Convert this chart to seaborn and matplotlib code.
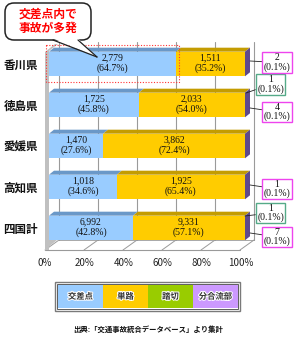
import numpy as np
import pandas as pd
import seaborn as sns
import matplotlib
matplotlib.use("Agg")
import matplotlib.pyplot as plt
from matplotlib.patches import Polygon, Rectangle, FancyBboxPatch
from matplotlib.lines import Line2D
from matplotlib.transforms import ScaledTranslation, IdentityTransform
import matplotlib.patheffects as pe

# ---------------- data ----------------
prefectures = ['香川県', '徳島県', '愛媛県', '高知県', '四国計']
types = ['交差点', '単路', '踏切', '分合流部']
intersection = [2779, 1725, 1470, 1018, 6992]
road = [1511, 2033, 3862, 1925, 9331]
crossing = [0, 1, 0, 0, 1]
merge = [2, 4, 0, 1, 7]
pct_intersection = ['64.7%', '45.8%', '27.6%', '34.6%', '42.8%']
pct_road = ['35.2%', '54.0%', '72.4%', '65.4%', '57.1%']
pct_crossing = ['', '0.1%', '', '', '0.1%']
pct_merge = ['0.1%', '0.1%', '', '0.1%', '0.1%']
tick_values = [0, 20, 40, 60, 80, 100]
tick_labels = ['0%', '20%', '40%', '60%', '80%', '100%']
bubble_text = '交差点内で\n事故が多発'
source_text = '出典:「交通事故統合データベース」より集計'

# ---------------- style ----------------
W, H = 295, 337
front_colors = ['#99ccff', '#ffcc00', '#99cc00', '#cc99ff']
top_colors = ['#6a98c8', '#c49c00', '#6f9200', '#8e6bb3']
side_color = '#5e4a8c'
grid_color = '#9a9a9a'
CJK = ['Noto Sans CJK JP', 'DejaVu Sans']
SERIF = ['Liberation Serif', 'DejaVu Serif']

sns.set_style('white')
plt.rcParams['font.family'] = CJK

fig = plt.figure(figsize=(W / 100, H / 100), dpi=100)
fig.patch.set_facecolor('white')
# axes: bar 0% at px 49, 100% at px 245; y px 40..250
ax = fig.add_axes([49 / W, (H - 250) / H, 196 / W, 210 / H])
ax.patch.set_visible(False)

# stacked data in percent
df = pd.DataFrame({'pref': prefectures, '交差点': intersection, '単路': road,
                   '踏切': crossing, '分合流部': merge})
total = df[types].sum(axis=1)
cum = df[types].cumsum(axis=1).div(total, axis=0) * 100
for t in types:
    df['cum_' + t] = cum[t]

bar_w = 0.6
for t, c in reversed(list(zip(types, front_colors))):
    sns.barplot(data=df, x='cum_' + t, y='pref', order=prefectures, orient='h',
                color=c, saturation=1, width=bar_w, errorbar=None, ax=ax,
                linewidth=0, zorder=3)

ax.set_xlim(0, 100)
ax.set_ylim(4.537, -0.585)
for s in ax.spines.values():
    s.set_visible(False)
ax.set_xlabel('')
ax.set_ylabel('')
ax.grid(False)

# ticks
ax.set_xticks(tick_values)
ax.set_xticklabels(tick_labels, fontsize=7, color='#222222')
ax.tick_params(axis='x', length=0, pad=6)
shift = ScaledTranslation(-4 / 100, 0, fig.dpi_scale_trans)
for lab in ax.get_xticklabels():
    lab.set_transform(lab.get_transform() + shift)
ax.set_yticks(range(len(prefectures)))
ax.set_yticklabels(prefectures, fontsize=8.3, fontweight='bold', color='#111111')
ax.tick_params(axis='y', length=0, pad=8)

# ---------------- pseudo 3D box (pixel decoration) ----------------
idt = IdentityTransform()


def D(x, y):
    return (x, H - y)


def poly(points, **kw):
    p = Polygon([D(*q) for q in points], closed=True, transform=idt, **kw)
    fig.add_artist(p)
    return p


def line(xs, ys, **kw):
    l = Line2D(xs, [H - y for y in ys], transform=idt, **kw)
    fig.add_artist(l)
    return l


# back wall gridlines
for k in range(6):
    x = 59 + 39 * k
    line([x, x], [42, 240], color=grid_color, lw=0.8, zorder=-2)
# floor
line([45, 240], [250, 250], color=grid_color, lw=0.8, zorder=-2)
line([59, 254], [240, 240], color=grid_color, lw=0.6, zorder=-2)
for k in range(6):
    line([45 + 39 * k, 59 + 39 * k], [250, 240], color=grid_color, lw=0.7, zorder=-2)
# left wall
poly([(45, 52), (55, 44), (58, 44), (49, 51), (49, 250), (45, 250)],
     facecolor='#c0c0c0', edgecolor='none', zorder=-1)
poly([(45, 250), (57, 240), (49, 240)], facecolor='#c0c0c0', edgecolor='none', zorder=-1)

# ---------------- 3D bar faces (from data) ----------------
dx, dy = 5, 4
tr = ax.transData
cum_arr = cum[types].to_numpy()
for i in range(len(prefectures)):
    top = i - bar_w / 2
    bot = i + bar_w / 2
    prev = 0.0
    for j, t in enumerate(types):
        cur = cum_arr[i, j]
        if cur > prev:
            (x0, yt), (x1, _) = tr.transform([(prev, top), (cur, top)])
            ax.add_patch(Polygon([(x0, yt), (x1, yt), (x1 + dx, yt + dy), (x0 + dx, yt + dy)],
                                 closed=True, transform=idt, facecolor=top_colors[j],
                                 edgecolor='none', clip_on=False, zorder=4))
        prev = cur
    (xe, yt), (_, yb) = tr.transform([(100, top), (100, bot)])
    ax.add_patch(Polygon([(xe, yb), (xe, yt), (xe + dx, yt + dy), (xe + dx, yb + dy)],
                         closed=True, transform=idt, facecolor=side_color,
                         edgecolor='none', clip_on=False, zorder=4))

# ---------------- value labels ----------------
for i in range(len(prefectures)):
    segs = [(0, cum_arr[i, 0], intersection[i], pct_intersection[i]),
            (cum_arr[i, 0], cum_arr[i, 1], road[i], pct_road[i])]
    for a, b, v, p in segs:
        ax.text((a + b) / 2, i - 0.03, f'{v:,}\n({p})', ha='center', va='center',
                fontsize=7, family=SERIF, color='#111111', linespacing=1.15, zorder=6)

# callouts for small categories
callout_style = {
    ('分合流部', 0): (32, 1.5, 5, 3),
    ('分合流部', 1): (32, -7, 5, -3),
    ('分合流部', 3): (32, -2, 5, 2),
    ('分合流部', 4): (32, -9, 5, -5),
    ('踏切', 1): (25.5, 20.5, 1, 12),
    ('踏切', 4): (25.5, 15, 0, 12),
}
edge_cols = {'分合流部': '#ee44ee', '踏切': '#55aa88'}
for name, vals, pcts in [('踏切', crossing, pct_crossing), ('分合流部', merge, pct_merge)]:
    for i, v in enumerate(vals):
        if v <= 0:
            continue
        tx, ty, axx, ayy = callout_style[(name, i)]
        xy_tr = ax.transData + ScaledTranslation(axx / 100, ayy / 100, fig.dpi_scale_trans)
        txt_tr = ax.transData + ScaledTranslation(tx / 100, ty / 100, fig.dpi_scale_trans)
        ax.annotate(f'{v}\n({pcts[i]})', xy=(100, i), xycoords=xy_tr,
                    xytext=(100, i), textcoords=txt_tr, ha='center', va='center',
                    fontsize=7, family=SERIF, color='#111111', linespacing=1.0,
                    bbox=dict(boxstyle='square,pad=0.12', fc='white', ec=edge_cols[name], lw=1.0),
                    arrowprops=dict(arrowstyle='-', color='#222222', lw=0.6,
                                    shrinkA=0, shrinkB=0),
                    annotation_clip=False, zorder=7)

# red dotted highlight around 香川県 交差点
ax.add_patch(Rectangle((-1.5, -0.46), cum_arr[0, 0] + 3.1, 0.9, fill=False,
                       edgecolor='#ff3333', lw=0.8, linestyle=(0, (1, 1.5)),
                       clip_on=False, zorder=8))

# ---------------- speech bubble ----------------
bub = FancyBboxPatch(D(5, 40), 86, 37, boxstyle='round,pad=0,rounding_size=9',
                     transform=idt, facecolor='white', edgecolor='#222222', lw=1.1, zorder=10)
fig.add_artist(bub)
poly([(53, 38.5), (78, 38.5), (97, 57)], facecolor='white', edgecolor='none', zorder=11)
line([53, 97], [40, 57], color='#222222', lw=0.9, zorder=12)
line([78, 97], [40, 57], color='#222222', lw=0.9, zorder=12)
fig.text(48 / W, 1 - 21.5 / H, bubble_text, ha='center', va='center', fontsize=8.5,
         fontweight='bold', color='#ff0000', linespacing=1.1, zorder=13)

# ---------------- legend table ----------------
fig.add_artist(Rectangle(D(55, 311), 185, 29, transform=idt, facecolor='white',
                         edgecolor='#7a7a7a', lw=1.0, zorder=5))
fig.add_artist(Rectangle(D(57, 309), 181, 25, transform=idt, facecolor='white',
                         edgecolor='#444444', lw=0.6, zorder=5))
cell_w = 45
for k, (t, c) in enumerate(zip(types, front_colors)):
    x0 = 58 + cell_w * k
    fig.add_artist(Rectangle(D(x0, 308), cell_w, 23, transform=idt, facecolor=c,
                             edgecolor='none', zorder=6))
    fig.text((x0 + cell_w / 2) / W, 1 - 296.5 / H, t, ha='center', va='center',
             fontsize=6, fontweight='bold', color='#333333', zorder=7,
             path_effects=[pe.withStroke(linewidth=1.5, foreground='white')])

fig.text(148 / W, 1 - 329.5 / H, source_text, ha='center', va='center',
         fontsize=5.3, fontweight='bold', color='#111111')

fig.savefig('out.png', dpi=100, facecolor='white')
